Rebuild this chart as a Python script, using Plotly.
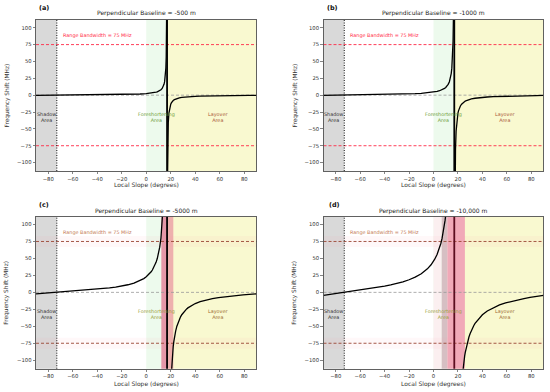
import plotly.graph_objects as go

# ---------------- data ----------------
panel_labels = ["(a)", "(b)", "(c)", "(d)"]
panel_titles = ["Perpendicular Baseline = -500 m", "Perpendicular Baseline = -1000 m",
                "Perpendicular Baseline = -5000 m", "Perpendicular Baseline = -10,000 m"]

x_ticks = [-80, -60, -40, -20, 0, 20, 40, 60, 80]
y_ticks = [-100, -75, -50, -25, 0, 25, 50, 75, 100]

shadow_edge = -73
asymptote = 17
bandwidth = 75

slope_left_ab = [-90, -85, -80, -75, -73, -70, -65, -60, -55, -50, -45, -40, -35, -30, -25, -20,
                 -15, -10, -5, 0, 3, 5, 7, 8, 9, 10, 11, 12, 13, 13.5, 14, 14.5, 15, 15.5, 16,
                 16.3, 16.5, 16.7]
slope_right_ab = [17.3, 17.5, 17.7, 18, 18.5, 19, 19.5, 20, 20.5, 21, 22, 23, 24, 25, 26, 27, 29,
                  31, 34, 37, 40, 44, 49, 54, 59, 64, 69, 74, 79, 84, 90]

shift_left_a = [-0.21, -0.15, -0.09, -0.02, 0, 0.04, 0.10, 0.16, 0.23, 0.30, 0.37, 0.45, 0.55,
                0.65, 0.78, 0.93, 1.12, 1.37, 1.73, 2.29, 2.81, 3.29, 3.97, 4.42, 4.98, 5.70,
                6.66, 8.00, 10.01, 11.44, 13.36, 16.03, 20.05, 26.73, 40.10, 57.29, 80.21, 133.69]
shift_right_a = [-133.69, -80.21, -57.29, -40.10, -26.73, -20.05, -16.03, -13.36, -11.44, -10.01,
                 -8.00, -6.66, -5.70, -4.98, -4.42, -3.97, -3.29, -2.81, -2.29, -1.92, -1.65,
                 -1.37, -1.12, -0.93, -0.78, -0.65, -0.55, -0.45, -0.37, -0.30, -0.21]

shift_left_b = [-0.43, -0.30, -0.17, -0.05, 0, 0.07, 0.20, 0.32, 0.45, 0.59, 0.74, 0.91, 1.09,
                1.31, 1.55, 1.86, 2.24, 2.75, 3.47, 4.58, 5.62, 6.59, 7.94, 8.84, 9.96, 11.40,
                13.32, 16.00, 20.02, 22.89, 26.71, 32.07, 40.09, 53.46, 80.21, 114.59, 160.42, 267.38]
shift_right_b = [-267.38, -160.42, -114.59, -80.21, -53.46, -40.09, -32.06, -26.71, -22.89, -20.02,
                 -16.00, -13.32, -11.40, -9.96, -8.84, -7.94, -6.59, -5.62, -4.58, -3.85, -3.30,
                 -2.75, -2.24, -1.86, -1.56, -1.31, -1.09, -0.91, -0.74, -0.59, -0.43]

slope_left_c = [-90, -85, -80, -75, -73, -70, -65, -60, -55, -50, -45, -40, -35, -30, -25, -20,
                -15, -10, -5, -2, 0, 1, 3, 4, 5, 6, 7, 8, 9, 10, 11, 12, 13, 13.5, 14]
shift_left_c = [-2.14, -1.49, -0.86, -0.24, 0, 0.37, 0.98, 1.62, 2.27, 2.97, 3.72, 4.55, 5.47,
                6.53, 7.77, 9.29, 11.20, 13.74, 17.33, 20.33, 22.90, 24.41, 28.08, 30.32, 32.93,
                36.01, 39.70, 44.20, 49.81, 57.01, 66.60, 80.01, 100.10, 114.45, 133.57]
slope_right_c = [20, 20.5, 21, 21.5, 22, 22.5, 23, 24, 25, 26, 27, 28, 29, 30, 31, 33, 34, 37, 40,
                 44, 49, 54, 59, 64, 69, 74, 79, 84, 90]
shift_right_c = [-133.57, -114.45, -100.10, -88.94, -80.01, -72.70, -66.60, -57.01, -49.81, -44.20,
                 -39.70, -36.01, -32.93, -30.32, -28.08, -24.41, -22.90, -19.23, -16.49, -13.74,
                 -11.20, -9.29, -7.77, -6.53, -5.47, -4.55, -3.72, -2.97, -2.14]

slope_left_d = [-90, -85, -80, -75, -73, -70, -65, -60, -55, -50, -45, -40, -35, -30, -25, -20,
                -15, -10, -5, -2, 0, 1, 3, 4, 5, 6, 7, 8, 8.5, 9, 9.5, 10, 11]
shift_left_d = [-4.28, -2.98, -1.72, -0.49, 0, 0.73, 1.97, 3.23, 4.55, 5.94, 7.44, 9.09, 10.94,
                13.06, 15.55, 18.58, 22.40, 27.48, 34.65, 40.66, 45.79, 48.82, 56.15, 60.64, 65.86,
                72.02, 79.40, 88.39, 93.68, 99.62, 106.34, 114.02, 133.20]
slope_right_d = [23, 24, 24.5, 25, 25.5, 26, 27, 28, 29, 30, 31, 33, 34, 37, 40, 44, 49, 54, 59,
                 64, 69, 74, 79, 84, 90]
shift_right_d = [-133.20, -114.02, -106.34, -99.62, -93.68, -88.39, -79.40, -72.02, -65.86, -60.64,
                 -56.15, -48.82, -45.79, -38.46, -32.98, -27.48, -22.40, -18.58, -15.55, -13.06,
                 -10.94, -9.09, -7.44, -5.94, -4.28]

# decorrelation bands (slope ranges) for panels c and d
band_c = [12.3, 22.1]
band_d = [6.7, 25.7]

# ---------------- layout ----------------
W, H = 550, 392
FONT = "DejaVu Sans"
YR = [-112.5, 111.5]

panels = [
    dict(xl=36, xr=256.5, yt=20, yb=171, lx=slope_left_ab, ly=shift_left_a,
         rx=slope_right_ab, ry=shift_right_a, lab_x=37, lab_y=8, tit_y=13.3, ytit_x=7, xtit_y=185),
    dict(xl=323.5, xr=543.5, yt=20, yb=171, lx=slope_left_ab, ly=shift_left_b,
         rx=slope_right_ab, ry=shift_right_b, lab_x=325, lab_y=8, tit_y=13.3, ytit_x=295, xtit_y=185),
    dict(xl=36, xr=256.5, yt=216.7, yb=368.7, lx=slope_left_c, ly=shift_left_c,
         rx=slope_right_c, ry=shift_right_c, lab_x=37, lab_y=205, tit_y=210.5, ytit_x=7, xtit_y=384.3),
    dict(xl=323.5, xr=543.5, yt=216.7, yb=368.7, lx=slope_left_d, ly=shift_left_d,
         rx=slope_right_d, ry=shift_right_d, lab_x=327, lab_y=205, tit_y=210.5, ytit_x=295, xtit_y=384.3),
]

fig = go.Figure()
shapes = []
annotations = []

for i, p in enumerate(panels):
    n = "" if i == 0 else str(i + 1)
    xa, ya = "x" + n, "y" + n
    axis_common = dict(showline=True, mirror=True, linecolor="#3a3a3a", linewidth=0.8,
                       ticks="outside", ticklen=2.5, tickwidth=0.6, tickcolor="#333",
                       tickfont=dict(family=FONT, size=5.3, color="#333"),
                       showgrid=False, zeroline=False, fixedrange=True)
    fig.layout["xaxis" + n] = dict(domain=[p["xl"] / W, p["xr"] / W], range=[-90, 90],
                                   tickvals=x_ticks, anchor=ya, **axis_common)
    fig.layout["yaxis" + n] = dict(domain=[1 - p["yb"] / H, 1 - p["yt"] / H], range=YR,
                                   tickvals=y_ticks, anchor=xa, **axis_common)

    def rect(x0, x1, color, y0=None, y1=None):
        if y0 is None:
            shapes.append(dict(type="rect", xref=xa, yref=ya + " domain", x0=x0, x1=x1, y0=0, y1=1,
                               fillcolor=color, line=dict(width=0), layer="below"))
        else:
            shapes.append(dict(type="rect", xref=xa + " domain", yref=ya, x0=0, x1=1, y0=y0, y1=y1,
                               fillcolor=color, line=dict(width=0), layer="below"))

    # region fills
    rect(-90, shadow_edge, "#d9d9d9")
    rect(0, asymptote, "#edfaed")
    rect(asymptote, 90, "#f9f9d0")
    if i == 2:
        rect(band_c[0], asymptote, "#e497a8")
        rect(asymptote, band_c[1], "#eeb0ad")
    if i == 3:
        rect(0, band_d[0], "#fbeff0")
        rect(band_d[0], 11.3, "#d6bfc3")
        rect(11.3, band_d[1], "#f1a9b8")
    if i >= 2:
        rect(None, None, "rgba(255,150,170,0.07)", bandwidth - 8, bandwidth + 8)
        rect(None, None, "rgba(255,150,170,0.07)", -bandwidth - 8, -bandwidth + 8)

    bw_color = "#ff2845" if i < 2 else "#9a4634"
    txt_bw_color = "#ff2845" if i < 2 else "#c57a55"
    vcolor = "#000000" if i < 3 else "#5c0d20"

    # reference lines
    shapes.append(dict(type="line", xref=xa + " domain", yref=ya, x0=0, x1=1, y0=0, y1=0,
                       line=dict(color="#999999", width=0.8, dash="3px,2px"), layer="below"))
    for yy in (bandwidth, -bandwidth):
        shapes.append(dict(type="line", xref=xa + " domain", yref=ya, x0=0, x1=1, y0=yy, y1=yy,
                           line=dict(color=bw_color, width=0.9, dash="3px,2px"), layer="below"))
    shapes.append(dict(type="line", xref=xa, yref=ya + " domain", x0=shadow_edge, x1=shadow_edge,
                       y0=0, y1=1, line=dict(color="#111", width=1, dash="1px,1.5px"), layer="below"))
    shapes.append(dict(type="line", xref=xa, yref=ya + " domain", x0=asymptote, x1=asymptote,
                       y0=0, y1=1, line=dict(color=vcolor, width=1.8), layer="below"))

    # curves
    for xs, ys in ((p["lx"], p["ly"]), (p["rx"], p["ry"])):
        fig.add_trace(go.Scatter(x=xs, y=ys, mode="lines", xaxis=xa, yaxis=ya,
                                 line=dict(color="#000", width=1.3), showlegend=False,
                                 hoverinfo="skip"))

    # texts in data coords
    fore_color = "#6f9e3c" if i < 2 else "#9aa040"
    lay_color = "#a9583a" if i < 2 else "#9c6a32"
    annotations += [
        dict(xref=xa, yref=ya, x=-70, y=88, text="Range Bandwidth = 75 MHz", showarrow=False,
             xanchor="left", yanchor="middle", font=dict(family=FONT, size=4.9, color=txt_bw_color)),
        dict(xref=xa, yref=ya, x=-81.5, y=-32, text="Shadow<br>Area", showarrow=False,
             font=dict(family=FONT, size=4.9, color="#333")),
        dict(xref=xa, yref=ya, x=8, y=-32, text="Foreshortening<br>Area", showarrow=False,
             font=dict(family=FONT, size=4.9, color=fore_color)),
        dict(xref=xa, yref=ya, x=59, y=-32, text="Layover<br>Area", showarrow=False,
             font=dict(family=FONT, size=4.9, color=lay_color)),
    ]
    # titles / labels in paper coords
    cx = (p["xl"] + p["xr"]) / 2
    cy = (p["yt"] + p["yb"]) / 2
    annotations += [
        dict(xref="paper", yref="paper", x=cx / W, y=1 - p["tit_y"] / H, text=panel_titles[i],
             showarrow=False, xanchor="center", yanchor="middle",
             font=dict(family=FONT, size=6, color="#222")),
        dict(xref="paper", yref="paper", x=p["lab_x"] / W, y=1 - p["lab_y"] / H,
             text="<b>" + panel_labels[i] + "</b>", showarrow=False, xanchor="left",
             yanchor="middle", font=dict(family=FONT, size=6.5, color="#111")),
        dict(xref="paper", yref="paper", x=p["ytit_x"] / W, y=1 - cy / H,
             text="Frequency Shift (MHz)", textangle=-90, showarrow=False, xanchor="center",
             yanchor="middle", font=dict(family=FONT, size=5.8, color="#333")),
        dict(xref="paper", yref="paper", x=cx / W, y=1 - p["xtit_y"] / H,
             text="Local Slope (degrees)", showarrow=False, xanchor="center", yanchor="middle",
             font=dict(family=FONT, size=6, color="#333")),
    ]

fig.update_layout(width=W, height=H, margin=dict(l=0, r=0, t=0, b=0),
                  paper_bgcolor="white", plot_bgcolor="white",
                  shapes=shapes, annotations=annotations, showlegend=False,
                  font=dict(family=FONT), hovermode=False)

fig.write_html("out.html", config={"displayModeBar": False, "staticPlot": True},
               post_script="document.body.style.margin='0';document.body.style.overflow='hidden';")
